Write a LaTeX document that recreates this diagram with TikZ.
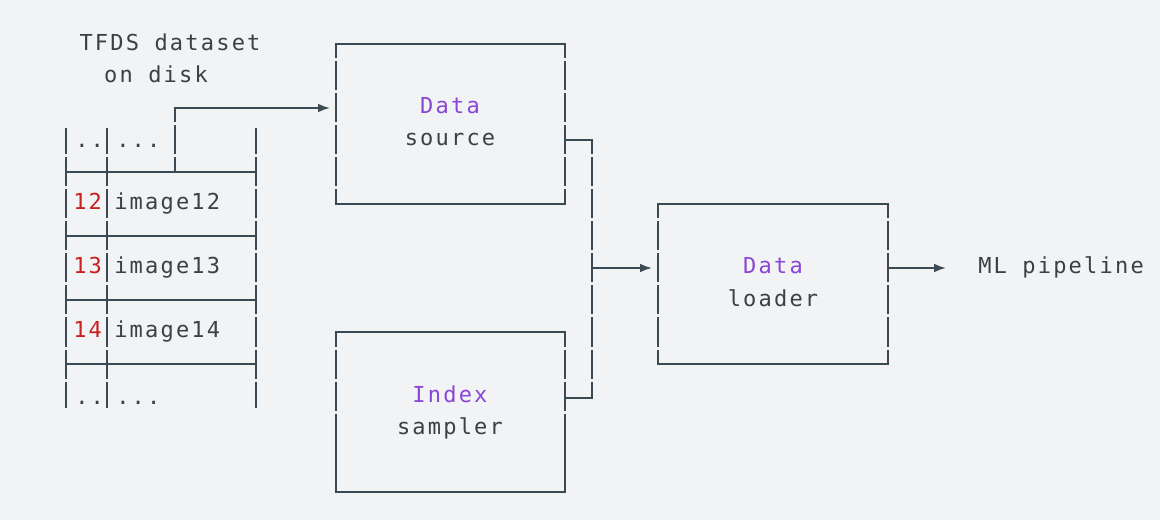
\documentclass[tikz,border=0pt]{standalone}
\usepackage{fontspec}
\setmonofont{DejaVu Sans Mono}
\usetikzlibrary{arrows.meta}
\definecolor{bg}{HTML}{F1F3F4}
\definecolor{ln}{HTML}{3C4A54}
\definecolor{tx}{HTML}{3C4043}
\definecolor{pu}{HTML}{8A45D6}
\definecolor{rd}{HTML}{C5221F}
\tikzset{
  x=0.75pt,y=-0.75pt,
  ln/.style={draw=ln,line width=1.2pt},
  arr/.style={ln,-{Latex[length=9pt,width=6.5pt]}},
  t/.style={inner sep=0pt,text=tx,text height=12pt,text depth=3pt,font=\ttfamily\fontsize{16.5pt}{19pt}\selectfont\addfontfeature{LetterSpace=10}},
  tl/.style={t,anchor=west},
}
\begin{document}
\begin{tikzpicture}
\fill[bg] (0,0) rectangle (1160,520);
\useasboundingbox (0,0) rectangle (1160,520);
% title
\node[t] (ti1) at (170,45) {TFDS dataset};
\node[t] (ti2) at (156,77) {on disk};
% table
\foreach \x in {66,107,256} \draw[ln] (\x,128) -- (\x,408);
\foreach \y in {172,236,300,364} \draw[ln] (66,\y) -- (256,\y);
\node[tl] (d1) at (75,142) {..};
\node[tl] (d2) at (116,142) {...};
\node[tl] (d3) at (75,398) {..};
\node[tl] (d4) at (116,398) {...};
\node[tl,text=rd] (n12) at (73,204) {12};
\node[tl] (i12) at (114,204) {image12};
\node[tl,text=rd] (n13) at (73,268) {13};
\node[tl] (i13) at (114,268) {image13};
\node[tl,text=rd] (n14) at (73,331) {14};
\node[tl] (i14) at (114,331) {image14};
% boxes
\node[ln,minimum width=229*0.75pt,minimum height=160*0.75pt,inner sep=0pt] (src) at (450.5,124) {};
\node[ln,minimum width=229*0.75pt,minimum height=160*0.75pt,inner sep=0pt] (smp) at (450.5,412) {};
\node[ln,minimum width=230*0.75pt,minimum height=160*0.75pt,inner sep=0pt] (ldr) at (773,284) {};
\node[t,text=pu] (srcA) at (450,108) {Data};
\node[t] (srcB) at (450,140) {source};
\node[t,text=pu] (smpA) at (450,396) {Index};
\node[t] (smpB) at (450,428) {sampler};
\node[t,text=pu] (ldrA) at (773,268) {Data};
\node[t] (ldrB) at (773,300) {loader};
\node[tl] (ml) at (978,268) {ML pipeline};
% connectors
\coordinate (tb) at (175,172);
\coordinate (j) at (592,268);
\coordinate (srcin) at (330,108);
\coordinate (ldrin) at (652,268);
\coordinate (mlin) at (946,268);
\draw[arr] (tb) |- (srcin);
\draw[ln] (src.east |- 0,140) -| (j);
\draw[ln] (smp.east |- 0,398) -| (j);
\draw[arr] (j) -- (ldrin);
\draw[arr] (ldr.east |- j) -- (mlin);
% gaps in vertical strokes (ascii pipes)
\foreach \x/\a/\b in {66/100/420,107/100/420,256/100/420,175/100/170,336/50/200,565/50/200,336/340/490,565/340/490,658/210/360,888/210/360,592/140/398}{
  \foreach \y in {60,92,...,412}{
    \pgfmathparse{(\y>\a)&&(\y<\b)?1:0}
    \ifnum\pgfmathresult=1 \fill[bg] (\x-3,\y-1.5) rectangle (\x+3,\y+1.5);\fi
  }
}
\end{tikzpicture}
\end{document}
